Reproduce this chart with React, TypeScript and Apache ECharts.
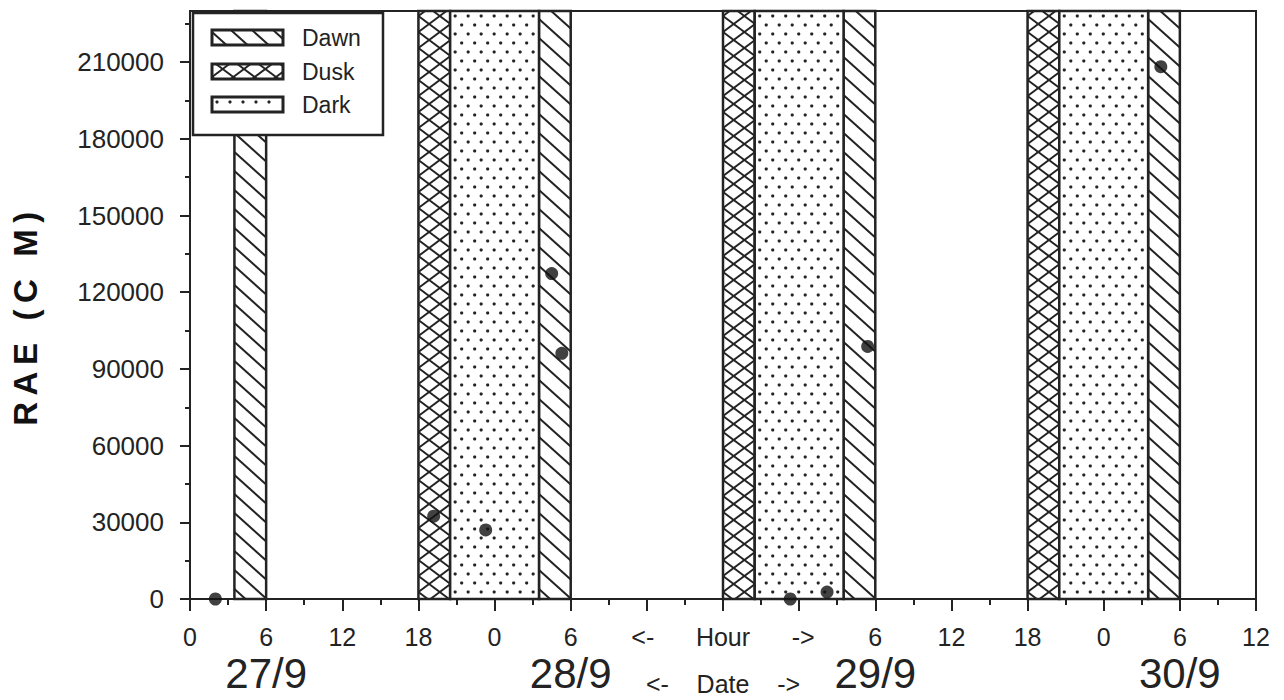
import React, { useEffect, useRef } from 'react';
import * as echarts from 'echarts';

// ---------- data ----------
const X_MAX = 84;
const Y_MAX = 230000;
const yLabelValues = [0, 30000, 60000, 90000, 120000, 150000, 180000, 210000];
const yMinorTickValues = [15000, 45000, 75000, 105000, 135000, 165000, 195000, 225000];
const hourBlank = [36, 48];
const hourCaption: Record<number, string> = { 42: '<-\u00a0\u00a0\u00a0\u00a0\u00a0\u00a0Hour\u00a0\u00a0\u00a0\u00a0\u00a0\u00a0->' };
const dateLabels: Record<number, string> = { 6: '27/9', 30: '28/9', 54: '29/9', 78: '30/9' };
const dateCaption: Record<number, string> = { 42: '<-\u00a0\u00a0\u00a0\u00a0Date\u00a0\u00a0\u00a0\u00a0->' };
const dawnBands = [[3.5, 6], [27.5, 30], [51.5, 54], [75.5, 78]];
const duskBands = [[18, 20.5], [42, 44.5], [66, 68.5]];
const darkBands = [[20.5, 27.5], [44.5, 51.5], [68.5, 75.5]];
const raePoints = [
  [2, 0], [19.2, 32400], [23.3, 27000], [28.5, 127300], [29.3, 96100],
  [47.3, 0], [50.2, 2700], [53.4, 98800], [76.5, 208200],
];
const legendNames = ['Dawn', 'Dusk', 'Dark'];
const yTitle = 'R\u2009A\u2009E\u2009 \u2009(\u2009C\u2009 \u2009M\u2009)\u00a0\u00a0\u00a0';

// ---------- style ----------
const INK = '#232323';
const FONT = '"Liberation Sans", Arial, sans-serif';

function lineEl(x1: number, y1: number, x2: number, y2: number, z: number, w = 2) {
  return { type: 'line', z, shape: { x1, y1, x2, y2 }, style: { stroke: INK, lineWidth: w } };
}

function hatch(x0: number, y0: number, x1: number, y1: number, s: number, sp: number, dir: number, z: number) {
  const out: any[] = [];
  const w = x1 - x0;
  if (dir > 0) {
    const start = Math.floor((y0 - s * w) / sp) * sp;
    for (let yL = start; yL <= y1; yL += sp) {
      const xa = Math.max(x0, x0 + (y0 - yL) / s);
      const xb = Math.min(x1, x0 + (y1 - yL) / s);
      if (xb - xa > 0.5) out.push(lineEl(xa, yL + s * (xa - x0), xb, yL + s * (xb - x0), z));
    }
  } else {
    const start = Math.floor(y0 / sp) * sp;
    for (let yL = start; yL <= y1 + s * w; yL += sp) {
      const xa = Math.max(x0, x0 + (yL - y1) / s);
      const xb = Math.min(x1, x0 + (yL - y0) / s);
      if (xb - xa > 0.5) out.push(lineEl(xa, yL - s * (xa - x0), xb, yL - s * (xb - x0), z));
    }
  }
  return out;
}

function dots(x0: number, y0: number, x1: number, y1: number, z: number) {
  const out: any[] = [];
  let r = 0;
  for (let y = y0 + 5; y < y1 - 2; y += 9, r++) {
    const off = (r % 2) * 6.5;
    for (let x = x0 + 5 + off; x < x1 - 2; x += 13) {
      out.push({ type: 'circle', z, shape: { cx: x, cy: y, r: 1.6 }, style: { fill: INK } });
    }
  }
  return out;
}

function patternEls(kind: string, x0: number, y0: number, x1: number, y1: number, bw = 2.5, z = 2) {
  const els: any[] = [
    { type: 'rect', z, shape: { x: x0, y: y0, width: x1 - x0, height: y1 - y0 }, style: { fill: '#fff' } },
  ];
  if (kind === 'Dawn') els.push(...hatch(x0, y0, x1, y1, 0.9, 19, 1, z));
  else if (kind === 'Dusk') {
    els.push(...hatch(x0, y0, x1, y1, 0.75, 16, 1, z));
    els.push(...hatch(x0, y0, x1, y1, 0.75, 16, -1, z));
  } else els.push(...dots(x0, y0, x1, y1, z));
  els.push({
    type: 'rect', z,
    shape: { x: x0, y: y0, width: x1 - x0, height: y1 - y0 },
    style: { fill: 'none', stroke: INK, lineWidth: bw },
  });
  return els;
}

function bandSeries(name: string, bands: number[][]) {
  return {
    type: 'custom',
    name,
    xAxisIndex: 0,
    yAxisIndex: 0,
    encode: { x: [0, 1] },
    data: bands,
    z: 2,
    renderItem: (_params: any, api: any) => {
      const a = api.coord([api.value(0), Y_MAX]);
      const b = api.coord([api.value(1), 0]);
      return { type: 'group', children: patternEls(name, a[0], a[1], b[0], b[1]) };
    },
  };
}

function legendGraphic() {
  const Z = 100;
  const children: any[] = [
    { type: 'rect', z: Z, shape: { x: 0, y: 0, width: 190, height: 122 }, style: { fill: '#fff', stroke: INK, lineWidth: 2.5 } },
  ];
  const bands = [[17, 32], [51, 66], [84, 99]];
  legendNames.forEach((n, i) => {
    const [ya, yb] = bands[i];
    children.push(...patternEls(n, 19, ya, 90, yb, 3, Z + 1));
    children.push({
      type: 'text', z: Z + 1,
      style: {
        text: n, x: 109, y: (ya + yb) / 2, fill: INK,
        fontSize: 23, fontFamily: FONT, verticalAlign: 'middle', align: 'left',
      },
    });
  });
  return [{ type: 'group', x: 193, y: 13, z: Z, children }];
}

export default function App() {
  const ref = useRef<HTMLDivElement>(null);
  useEffect(() => {
    if (!ref.current) return;
    const chart = echarts.init(ref.current, undefined, { renderer: 'svg' });
    chart.setOption({
      animation: false,
      backgroundColor: '#fff',
      grid: {
        left: 190, right: 28, top: 11, bottom: 101,
        show: true, borderColor: INK, borderWidth: 2, containLabel: false,
        outerBoundsMode: 'none',
      },
      xAxis: [
        {
          type: 'value', min: 0, max: X_MAX, interval: 6, position: 'bottom',
          axisLine: { show: true, onZero: false, lineStyle: { color: INK, width: 2 } },
          axisTick: { show: true, inside: false, length: 12, lineStyle: { color: INK, width: 2 } },
          minorTick: { show: true, splitNumber: 2, length: 6, lineStyle: { color: INK, width: 2 } },
          splitLine: { show: false },
          minorSplitLine: { show: false },
          axisLabel: {
            margin: 25, color: INK, fontSize: 25, fontFamily: FONT,
            formatter: (v: number) => {
              if (hourCaption[v] !== undefined) return hourCaption[v];
              if (hourBlank.indexOf(v) >= 0) return '';
              return String(v % 24);
            },
          },
        },
        {
          type: 'value', min: 0, max: X_MAX, interval: 6, position: 'bottom',
          axisLine: { show: false }, axisTick: { show: false },
          splitLine: { show: false },
          axisLabel: {
            margin: 52, color: INK, fontFamily: FONT,
            formatter: (v: number) => {
              if (dateLabels[v] !== undefined) return '{d|' + dateLabels[v] + '}';
              if (dateCaption[v] !== undefined) return '{s|' + dateCaption[v] + '}';
              return '';
            },
            rich: {
              d: { fontSize: 42, lineHeight: 44, fontFamily: FONT, color: INK },
              s: { fontSize: 25, lineHeight: 66, fontFamily: FONT, color: INK },
            },
          },
        },
      ],
      yAxis: [
        {
          type: 'value', min: 0, max: Y_MAX, interval: 30000, position: 'left',
          name: yTitle,
          nameLocation: 'middle', nameRotate: 90, nameGap: 148,
          nameTextStyle: { fontSize: 33, fontWeight: 'bold', fontFamily: FONT, color: '#111' },
          axisLine: { show: true, onZero: false, lineStyle: { color: INK, width: 2 } },
          axisTick: { show: true, inside: false, length: 10, customValues: yLabelValues, lineStyle: { color: INK, width: 2 } },
          splitLine: { show: false },
          axisLabel: {
            margin: 26, color: INK, fontSize: 26, fontFamily: FONT,
            customValues: yLabelValues,
            formatter: (v: number) => (yLabelValues.indexOf(v) >= 0 ? String(v) : ''),
          },
        },
        {
          type: 'value', min: 0, max: Y_MAX, interval: 15000, position: 'left',
          axisLine: { show: false },
          axisTick: { show: true, inside: false, length: 5, customValues: yMinorTickValues, lineStyle: { color: INK, width: 2 } },
          splitLine: { show: false },
          axisLabel: { show: false },
        },
      ],
      series: [
        bandSeries('Dawn', dawnBands),
        bandSeries('Dusk', duskBands),
        bandSeries('Dark', darkBands),
        {
          type: 'scatter', name: 'RAE', xAxisIndex: 0, yAxisIndex: 0,
          data: raePoints, symbol: 'circle', symbolSize: 13, z: 10, clip: false,
          itemStyle: { color: '#111' },
        },
      ],
      graphic: legendGraphic(),
    });
    return () => chart.dispose();
  }, []);
  return (
    <div
      ref={ref}
      style={{ position: 'absolute', left: 0, top: 0, width: 1284, height: 700, background: '#fff' }}
    />
  );
}
